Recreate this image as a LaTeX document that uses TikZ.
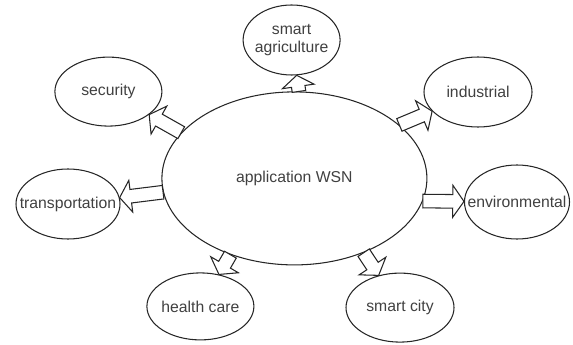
\documentclass[tikz,border=0pt]{standalone}
\usepackage{fontspec}
\setmainfont{Liberation Sans}
\usetikzlibrary{shapes.geometric,calc}

\tikzset{
  topic/.style={draw=black!85, line width=0.75pt, ellipse, minimum width=2.65cm,
    minimum height=1.75cm, inner sep=0pt},
  every label/.style={align=center, text=black!75, inner sep=0pt,
    font=\fontsize{11.2}{13}\selectfont},
  wsnarrow/.style={draw=black!85, line width=0.75pt, fill=white, line join=miter},
}
% block arrow from node #1 to node #2
\newcommand\blockarrow[2]{%
  \path (#1) -- (#2) coordinate[pos=0] (aS) coordinate[pos=1] (aE);
  \draw[wsnarrow] let \p1=($(aE)-(aS)$), \n1={atan2(\y1,\x1)}, \n2={veclen(\x1,\y1)} in
    [shift={(aS)}, rotate=\n1]
    (0cm,-0.17cm) -- ({\n2*1pt-0.28cm},-0.17cm) -- ({\n2*1pt-0.28cm},-0.4cm) -- ({\n2*1pt},0cm)
    -- ({\n2*1pt-0.28cm},0.4cm) -- ({\n2*1pt-0.28cm},0.17cm) -- (0cm,0.17cm) -- cycle;
}

\begin{document}
\begin{tikzpicture}
  \useasboundingbox (0,0) rectangle (14.325,8.6);
  \node[topic, minimum width=6.625cm, minimum height=4.325cm, label={center:application WSN}] (app) at (7.36,4.14) {};
  \node[topic, minimum width=2.425cm, label={center:smart\\agriculture}] (agri) at (7.29,7.6) {};
  \node[topic, minimum width=2.7cm, label={center:industrial}] (ind) at (11.95,6.3) {};
  \node[topic, minimum width=2.625cm, minimum height=1.85cm, label={center:environmental}] (env) at (12.925,3.55) {};
  \node[topic, minimum width=2.7cm, minimum height=1.725cm, label={center:smart city}] (city) at (10.0,0.91) {};
  \node[topic, minimum width=2.675cm, minimum height=1.675cm, label={center:health care}] (health) at (5.01,0.94) {};
  \node[topic, minimum width=2.6cm, label={center:transportation}] (trans) at (1.7,3.5) {};
  \node[topic, minimum width=2.675cm, minimum height=1.725cm, label={center:security}] (sec) at (2.71,6.31) {};

  \blockarrow{app.87}{agri}
  \blockarrow{app.27}{ind}
  \blockarrow{app.-10}{env}
  \blockarrow{app.-47}{city}
  \blockarrow{app.-130}{health}
  \blockarrow{app.186}{trans}
  \blockarrow{app.158}{sec}
\end{tikzpicture}
\end{document}
